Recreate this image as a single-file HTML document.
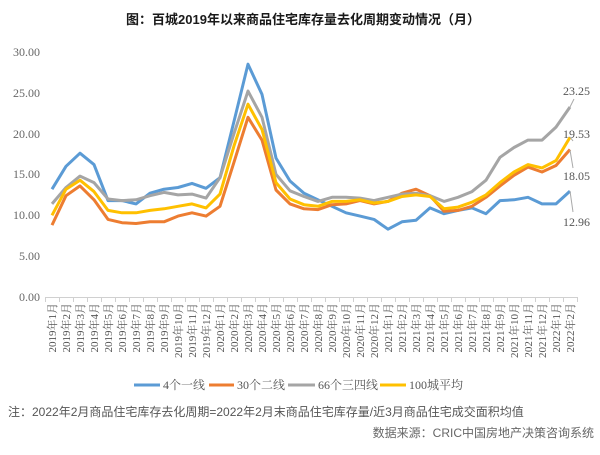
<!DOCTYPE html>
<html><head><meta charset="utf-8"><style>
body{margin:0;background:#fff;width:600px;height:450px;overflow:hidden}
svg text{font-family:"Liberation Serif","Noto Serif CJK SC",serif}
</style></head><body>
<svg width="600" height="450" xmlns="http://www.w3.org/2000/svg">
<text x="303" y="24" text-anchor="middle" font-size="13" font-weight="bold" fill="#1a1a1a" style="font-family:'Liberation Sans','Noto Sans CJK SC',sans-serif">图：百城2019年以来商品住宅库存量去化周期变动情况（月）</text>
<g font-size="12" fill="#666" text-anchor="end">
<text x="40" y="56">30.00</text><text x="40" y="97">25.00</text><text x="40" y="138">20.00</text>
<text x="40" y="178">15.00</text><text x="40" y="219">10.00</text><text x="40" y="260">5.00</text><text x="40" y="301">0.00</text>
</g>
<g id="ax" stroke="#d0d0d0" stroke-width="1"><line x1="45" y1="297.5" x2="578" y2="297.5"/></g>
<g id="lines" fill="none" stroke-width="3" stroke-linejoin="round"></g>
<g font-size="11" fill="#555" id="xl">
<text transform="translate(56,303) rotate(-90)" text-anchor="end">2019年1月</text>
<text transform="translate(70,303) rotate(-90)" text-anchor="end">2019年2月</text>
<text transform="translate(84,303) rotate(-90)" text-anchor="end">2019年3月</text>
<text transform="translate(98,303) rotate(-90)" text-anchor="end">2019年4月</text>
<text transform="translate(112,303) rotate(-90)" text-anchor="end">2019年5月</text>
<text transform="translate(126,303) rotate(-90)" text-anchor="end">2019年6月</text>
<text transform="translate(140,303) rotate(-90)" text-anchor="end">2019年7月</text>
<text transform="translate(154,303) rotate(-90)" text-anchor="end">2019年8月</text>
<text transform="translate(168,303) rotate(-90)" text-anchor="end">2019年9月</text>
<text transform="translate(182,303) rotate(-90)" text-anchor="end">2019年10月</text>
<text transform="translate(196,303) rotate(-90)" text-anchor="end">2019年11月</text>
<text transform="translate(210,303) rotate(-90)" text-anchor="end">2019年12月</text>
<text transform="translate(224,303) rotate(-90)" text-anchor="end">2020年1月</text>
<text transform="translate(238,303) rotate(-90)" text-anchor="end">2020年2月</text>
<text transform="translate(252,303) rotate(-90)" text-anchor="end">2020年3月</text>
<text transform="translate(266,303) rotate(-90)" text-anchor="end">2020年4月</text>
<text transform="translate(280,303) rotate(-90)" text-anchor="end">2020年5月</text>
<text transform="translate(294,303) rotate(-90)" text-anchor="end">2020年6月</text>
<text transform="translate(308,303) rotate(-90)" text-anchor="end">2020年7月</text>
<text transform="translate(322,303) rotate(-90)" text-anchor="end">2020年8月</text>
<text transform="translate(336,303) rotate(-90)" text-anchor="end">2020年9月</text>
<text transform="translate(350,303) rotate(-90)" text-anchor="end">2020年10月</text>
<text transform="translate(364,303) rotate(-90)" text-anchor="end">2020年11月</text>
<text transform="translate(378,303) rotate(-90)" text-anchor="end">2020年12月</text>
<text transform="translate(392,303) rotate(-90)" text-anchor="end">2021年1月</text>
<text transform="translate(406,303) rotate(-90)" text-anchor="end">2021年2月</text>
<text transform="translate(420,303) rotate(-90)" text-anchor="end">2021年3月</text>
<text transform="translate(434,303) rotate(-90)" text-anchor="end">2021年4月</text>
<text transform="translate(448,303) rotate(-90)" text-anchor="end">2021年5月</text>
<text transform="translate(462,303) rotate(-90)" text-anchor="end">2021年6月</text>
<text transform="translate(476,303) rotate(-90)" text-anchor="end">2021年7月</text>
<text transform="translate(490,303) rotate(-90)" text-anchor="end">2021年8月</text>
<text transform="translate(504,303) rotate(-90)" text-anchor="end">2021年9月</text>
<text transform="translate(518,303) rotate(-90)" text-anchor="end">2021年10月</text>
<text transform="translate(532,303) rotate(-90)" text-anchor="end">2021年11月</text>
<text transform="translate(546,303) rotate(-90)" text-anchor="end">2021年12月</text>
<text transform="translate(560,303) rotate(-90)" text-anchor="end">2022年1月</text>
<text transform="translate(574,303) rotate(-90)" text-anchor="end">2022年2月</text>
</g>
<g font-size="12" fill="#555">
<text x="563" y="95">23.25</text>
<text x="563" y="138">19.53</text>
<text x="563" y="180">18.05</text>
<text x="563" y="226">12.96</text>
</g>
<g stroke="#aaa" stroke-width="1">
<line x1="570" y1="107" x2="574" y2="99"/>
<line x1="570" y1="137" x2="573" y2="141"/>
<line x1="570" y1="150" x2="573" y2="168"/>
<line x1="570" y1="191" x2="573" y2="212"/>
</g>
<g font-size="12" fill="#555">
<line x1="134" y1="385" x2="160" y2="385" stroke="#5b9bd5" stroke-width="3"/><text x="163" y="389">4个一线</text>
<line x1="209" y1="385" x2="234" y2="385" stroke="#ed7d31" stroke-width="3"/><text x="237" y="389">30个二线</text>
<line x1="288" y1="385" x2="315" y2="385" stroke="#a5a5a5" stroke-width="3"/><text x="318" y="389">66个三四线</text>
<line x1="380" y1="385" x2="406" y2="385" stroke="#ffc000" stroke-width="3"/><text x="409" y="389">100城平均</text>
</g>
<text x="8" y="416" font-size="12" fill="#555" style="font-family:'Liberation Sans','Noto Sans CJK SC',sans-serif">注：2022年2月商品住宅库存去化周期=2022年2月末商品住宅库存量/近3月商品住宅成交面积均值</text>
<text x="594" y="437" font-size="12" fill="#666" text-anchor="end" style="font-family:'Liberation Sans','Noto Sans CJK SC',sans-serif">数据来源：CRIC中国房地产决策咨询系统</text>
</svg>
<script>
var ax=document.getElementById('ax'),NS='http://www.w3.org/2000/svg';
for(var i=0;i<=38;i++){var l=document.createElementNS(NS,'line');var x=45+14*i+.5;l.setAttribute('x1',x);l.setAttribute('x2',x);l.setAttribute('y1',297);l.setAttribute('y2',302);ax.appendChild(l);}
var S=[
['#a5a5a5',[11.4,13.4,14.8,14.0,12.0,11.8,11.9,12.4,12.8,12.5,12.6,12.1,14.6,20,25.2,22,15,13,12.3,11.7,12.2,12.2,12.1,11.8,12.2,12.6,12.7,12.4,11.7,12.2,12.9,14.3,17.1,18.3,19.2,19.2,20.8,23.25]],
['#ed7d31',[8.8,12.4,13.6,11.9,9.5,9.1,9.0,9.2,9.2,9.9,10.3,9.9,11.1,16.5,22.0,19.2,13.1,11.4,10.8,10.7,11.3,11.4,11.8,11.4,11.7,12.7,13.2,12.4,10.5,10.6,11.1,12.2,13.6,14.9,15.9,15.3,16.1,18.05]],
['#ffc000',[10.0,13.2,14.3,12.9,10.6,10.3,10.3,10.6,10.8,11.1,11.4,10.9,12.6,18.5,23.6,20.5,14,12.0,11.3,11.1,11.7,11.7,11.9,11.5,11.7,12.3,12.5,12.3,10.8,11.0,11.6,12.5,14.0,15.3,16.2,15.8,16.7,19.53]],
['#5b9bd5',[13.2,16.0,17.6,16.2,11.8,11.8,11.4,12.7,13.2,13.4,13.9,13.3,14.6,21.5,28.5,24.8,17.0,14.2,12.7,11.9,11.1,10.3,9.9,9.5,8.3,9.2,9.4,10.9,10.2,10.6,10.9,10.2,11.8,11.9,12.2,11.4,11.4,12.96]]];
var g=document.getElementById('lines');
[3,1,0,2].forEach(function(k){var s=S[k];var p=s[1].map(function(v,i){return (52+14*i)+','+(297-v*8.17).toFixed(1)}).join(' ');
var e=document.createElementNS(NS,'polyline');e.setAttribute('points',p);e.setAttribute('stroke',s[0]);g.appendChild(e);});
</script>
</body></html>
